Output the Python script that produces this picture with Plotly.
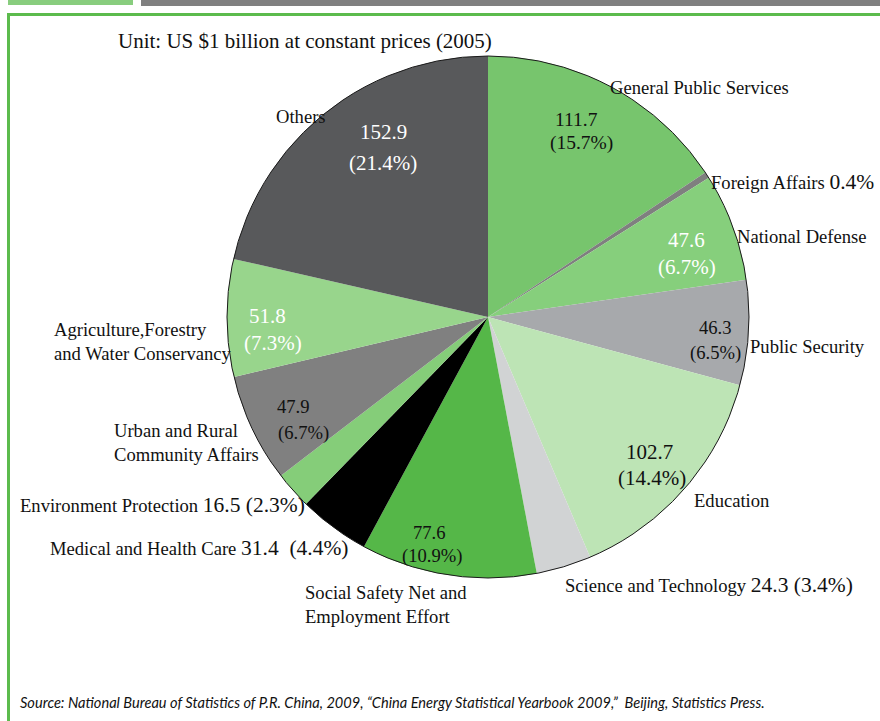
import plotly.graph_objects as go

# Government expenditure by function, US $1 billion at constant 2005 prices
categories = [
    "General Public Services", "Foreign Affairs", "National Defense",
    "Public Security", "Education", "Science and Technology",
    "Social Safety Net and Employment Effort", "Medical and Health Care",
    "Environment Protection", "Urban and Rural Community Affairs",
    "Agriculture,Forestry and Water Conservancy", "Others",
]
values = [111.7, 2.8, 47.6, 46.3, 102.7, 24.3, 77.6, 31.4, 16.5, 47.9, 51.8, 152.9]
slice_colors = [
    "#77c56d", "#7f7f7f", "#86cf7c", "#a7a9ac", "#bde4b5", "#d1d3d4",
    "#55b748", "#000000", "#85cd79", "#808080", "#98d58c", "#58595b",
]

W, H = 880, 721
SERIF = "Liberation Serif, Times New Roman, serif"
total = sum(values)
val = {c: v for c, v in zip(categories, values)}


def pct(c):
    return f"({val[c] / total * 100:.1f}%)"


def num(c):
    return f"{val[c]:.1f}"


def px(x):
    return x / W


def py(y):
    return 1 - y / H


# pie placement in pixels
cx, cy, r = 488, 317, 261
dom_x = [px(cx - r), px(cx + r)]
dom_y = [py(cy + r), py(cy - r)]

fig = go.Figure()
fig.add_trace(go.Pie(
    labels=categories, values=values, sort=False, direction="clockwise",
    rotation=0, marker=dict(colors=slice_colors, line=dict(width=0)),
    textinfo="none", hoverinfo="label+value+percent", showlegend=False,
    domain=dict(x=dom_x, y=dom_y),
))
# thin outline around the whole pie
fig.add_trace(go.Pie(
    values=[1], labels=["outline"], sort=False, textinfo="none",
    hoverinfo="skip", showlegend=False,
    marker=dict(colors=["rgba(0,0,0,0)"], line=dict(color="#1a1a1a", width=1)),
    domain=dict(x=dom_x, y=dom_y),
))

ann = []
LBL = 18.6


def label(text, x, y, size=LBL, color="#111", anchor="center"):
    ann.append(dict(text=text, x=px(x), y=py(y), xref="paper", yref="paper",
                    showarrow=False, xanchor=anchor, yanchor="middle",
                    font=dict(family=SERIF, size=size, color=color), align="left"))


def big(t, size=21.5):
    return f"<span style='font-size:{size}px'>{t}</span>"


label("Unit: US $1 billion at constant prices (2005)", 116, 41, 21, anchor="left")

label("General Public Services", 608, 88, anchor="left")
label(num("General Public Services"), 576, 119, 19.5)
label(pct("General Public Services"), 581, 143, 19.5)

label("Others", 274, 116, anchor="left")
label(num("Others"), 383, 132, 21, "white")
label(pct("Others"), 383, 163, 21, "white")

label("Foreign Affairs " + big(f"{val['Foreign Affairs'] / total * 100:.1f}%"), 709, 182, anchor="left")

label("National Defense", 735, 236, anchor="left")
label(num("National Defense"), 686, 240, 21, "white")
label(pct("National Defense"), 687, 267, 21, "white")

label(num("Public Security"), 715, 327, 18.6)
label(pct("Public Security"), 715, 353, 18.6)
label("Public Security", 748, 346, anchor="left")

label(num("Education"), 649, 452, 21)
label(pct("Education"), 652, 478, 21)
label("Education", 692, 500, anchor="left")

label("Science and Technology " + big(num("Science and Technology") + " "
      + pct("Science and Technology")), 563, 585, anchor="left")

label(num("Social Safety Net and Employment Effort"), 429, 532, 18.6)
label(pct("Social Safety Net and Employment Effort"), 432, 556, 18.6)
label("Social Safety Net and<br>Employment Effort", 303, 604, anchor="left")

label("Medical and Health Care " + big(num("Medical and Health Care") + "  "
      + pct("Medical and Health Care")), 48, 548, anchor="left")

label("Environment Protection " + big(num("Environment Protection") + " "
      + pct("Environment Protection")), 18, 505, anchor="left")

label("Urban and Rural<br>Community Affairs", 112, 443, anchor="left")
label(num("Urban and Rural Community Affairs"), 293, 406, 18.6)
label(pct("Urban and Rural Community Affairs"), 303, 433, 18.6)

label("Agriculture,Forestry<br>and Water Conservancy", 52, 341, anchor="left")
label(num("Agriculture,Forestry and Water Conservancy"), 267, 316, 21, "white")
label(pct("Agriculture,Forestry and Water Conservancy"), 273, 343, 21, "white")

ann.append(dict(
    text="<i>Source: National Bureau of Statistics of P.R. China, 2009, \u201cChina Energy "
         "Statistical Yearbook 2009,\u201d  Beijing, Statistics Press.</i>",
    x=px(18), y=py(702), xref="paper", yref="paper", showarrow=False,
    xanchor="left", yanchor="middle",
    font=dict(family="Lato, Open Sans, sans-serif", size=14.6, color="#111")))

shapes = [
    # header blocks
    dict(type="rect", xref="paper", yref="paper", x0=px(8), x1=px(133),
         y0=py(5), y1=py(-2), fillcolor="#88cd7e", line=dict(width=0)),
    dict(type="rect", xref="paper", yref="paper", x0=px(141), x1=px(882),
         y0=py(6), y1=py(-2), fillcolor="#808080", line=dict(width=0)),
    # frame
    dict(type="rect", xref="paper", yref="paper", x0=px(7), x1=px(885),
         y0=py(13), y1=py(16), fillcolor="#5cbb4d", line=dict(width=0)),
    dict(type="rect", xref="paper", yref="paper", x0=px(7), x1=px(10),
         y0=py(725), y1=py(13), fillcolor="#5cbb4d", line=dict(width=0)),
]

fig.update_layout(
    width=W, height=H, margin=dict(l=0, r=0, t=0, b=0),
    paper_bgcolor="white", plot_bgcolor="white",
    annotations=ann, shapes=shapes,
)

fig.write_html("out.html")
